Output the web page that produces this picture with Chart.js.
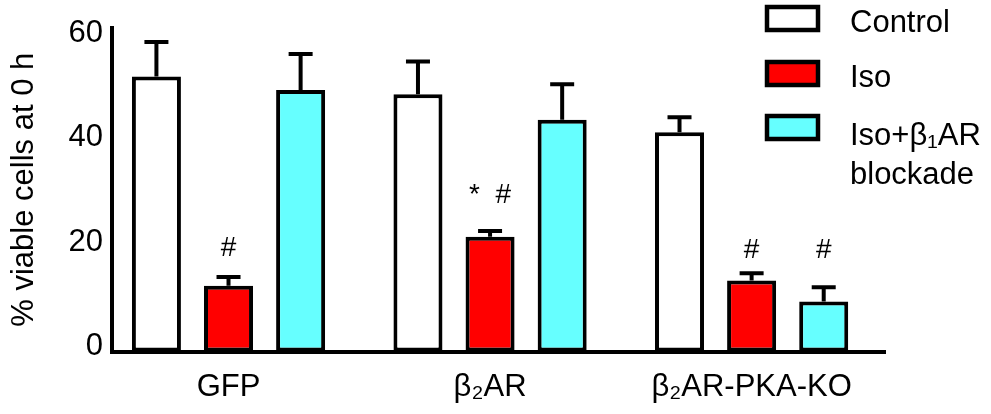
<!DOCTYPE html>
<html>
<head>
<meta charset="utf-8">
<script src="https://cdn.jsdelivr.net/npm/chart.js@4/dist/chart.umd.min.js"></script>
<style>
  html, body { margin: 0; padding: 0; background: #fff; }
  canvas { display: block; }
</style>
</head>
<body>
<canvas id="chart" width="991" height="414"></canvas>
<script>
// Groups on the x axis
const groups = ['GFP', 'β₂AR', 'β₂AR-PKA-KO'];

// Treatment series: mean and SEM (% viable cells at 0 h)
const controlLabel = 'Control';
const controlMean = [52.7, 49.3, 42.0];
const controlSem  = [6.6, 6.3, 2.9];

const isoLabel = 'Iso';
const isoMean = [12.6, 22.0, 13.6];
const isoSem  = [1.7, 1.1, 1.4];

const blockLabel = ['Iso+β₁AR', 'blockade'];
const blockMean = [50.1, 44.4, 9.6];
const blockSem  = [6.9, 6.8, 2.7];

// Significance marks above bars
const isoMarks   = ['#', '*  #', '#'];
const blockMarks = ['', '', '#'];

const yTicks = [0, 20, 40, 60];

// ---- drawing setup ----
const FONT = "'Liberation Sans', Arial, Helvetica, sans-serif";
const BLACK = '#000000';

// Height (axis units) at which each significance mark is centred
const markLevels = {
  Iso: [19.8, 30.0, 19.4],
  Block: [null, null, 19.4]
};

function points(values) {
  return values.map((v, i) => ({ x: i, y: v }));
}

const datasets = [
  { label: controlLabel, data: points(controlMean), sem: controlSem, marks: null, markAt: null,
    backgroundColor: '#ffffff' },
  { label: isoLabel, data: points(isoMean), sem: isoSem, marks: isoMarks, markAt: markLevels.Iso,
    backgroundColor: '#ff0000' },
  { label: blockLabel, data: points(blockMean), sem: blockSem, marks: blockMarks, markAt: markLevels.Block,
    backgroundColor: '#66ffff' }
].map(ds => Object.assign(ds, {
  borderColor: BLACK,
  borderWidth: 4,
  borderSkipped: false,
  categoryPercentage: 0.827,
  barPercentage: 0.68
}));

// Upper SEM whiskers and significance marks
const errorBars = {
  id: 'errorBars',
  afterDatasetsDraw(chart) {
    const { ctx } = chart;
    const y = chart.scales.y;
    ctx.save();
    ctx.strokeStyle = BLACK;
    ctx.lineWidth = 4;
    ctx.lineCap = 'butt';
    chart.data.datasets.forEach((ds, di) => {
      const meta = chart.getDatasetMeta(di);
      meta.data.forEach((bar, i) => {
        const top = y.getPixelForValue(ds.data[i].y + ds.sem[i]);
        ctx.beginPath();
        ctx.moveTo(bar.x, bar.y);
        ctx.lineTo(bar.x, top);
        ctx.moveTo(bar.x - 12, top);
        ctx.lineTo(bar.x + 12, top);
        ctx.stroke();
        if (ds.marks && ds.marks[i]) {
          ctx.fillStyle = BLACK;
          ctx.font = '28px ' + FONT;
          ctx.textAlign = 'center';
          ctx.textBaseline = 'middle';
          ctx.fillText(ds.marks[i], bar.x, y.getPixelForValue(ds.markAt[i]));
        }
      });
    });
    ctx.restore();
  }
};

// Legend in the upper right corner
const boxLegend = {
  id: 'boxLegend',
  afterDraw(chart) {
    const { ctx } = chart;
    const boxTops = [5, 60, 114];
    const baselines = [32, 87, 145];
    ctx.save();
    chart.data.datasets.forEach((ds, i) => {
      ctx.fillStyle = ds.backgroundColor;
      ctx.fillRect(767, boxTops[i] + 2, 51, 23);
      ctx.lineWidth = 4.5;
      ctx.strokeStyle = BLACK;
      ctx.strokeRect(767, boxTops[i] + 2, 51, 23);
      ctx.fillStyle = BLACK;
      ctx.font = '31px ' + FONT;
      ctx.textAlign = 'left';
      ctx.textBaseline = 'alphabetic';
      const lines = Array.isArray(ds.label) ? ds.label : [ds.label];
      lines.forEach((line, k) => ctx.fillText(line, 850, baselines[i] + k * 39));
    });
    ctx.restore();
  }
};

new Chart(document.getElementById('chart'), {
  type: 'bar',
  data: { datasets },
  plugins: [errorBars, boxLegend],
  options: {
    responsive: false,
    animation: false,
    devicePixelRatio: 1,
    layout: { padding: { left: 6, right: 106, top: 28, bottom: 0 } },
    plugins: {
      legend: { display: false },
      tooltip: { enabled: false }
    },
    scales: {
      x: {
        type: 'linear',
        offset: false,
        min: -0.4455,
        max: 2.51,
        afterBuildTicks: s => { s.ticks = groups.map((_, i) => ({ value: i })); },
        afterFit: s => { s.height = 62.5; },
        grid: { display: false, drawTicks: false },
        border: { display: true, color: BLACK, width: 4 },
        ticks: {
          color: BLACK,
          font: { family: FONT, size: 31 },
          padding: 17,
          maxRotation: 0,
          autoSkip: false,
          callback: v => groups[v]
        }
      },
      y: {
        min: 0,
        max: 62,
        afterBuildTicks: s => { s.ticks = yTicks.map(v => ({ value: v })); },
        afterFit: s => { s.width = 106; },
        grid: { display: false, drawTicks: false },
        border: { display: true, color: BLACK, width: 4 },
        ticks: {
          color: BLACK,
          font: { family: FONT, size: 31 },
          padding: 9,
          labelOffset: -5
        },
        title: {
          display: true,
          text: '% viable cells at 0 h',
          color: BLACK,
          font: { family: FONT, size: 31 },
          padding: 0
        }
      }
    }
  }
});
</script>
</body>
</html>
